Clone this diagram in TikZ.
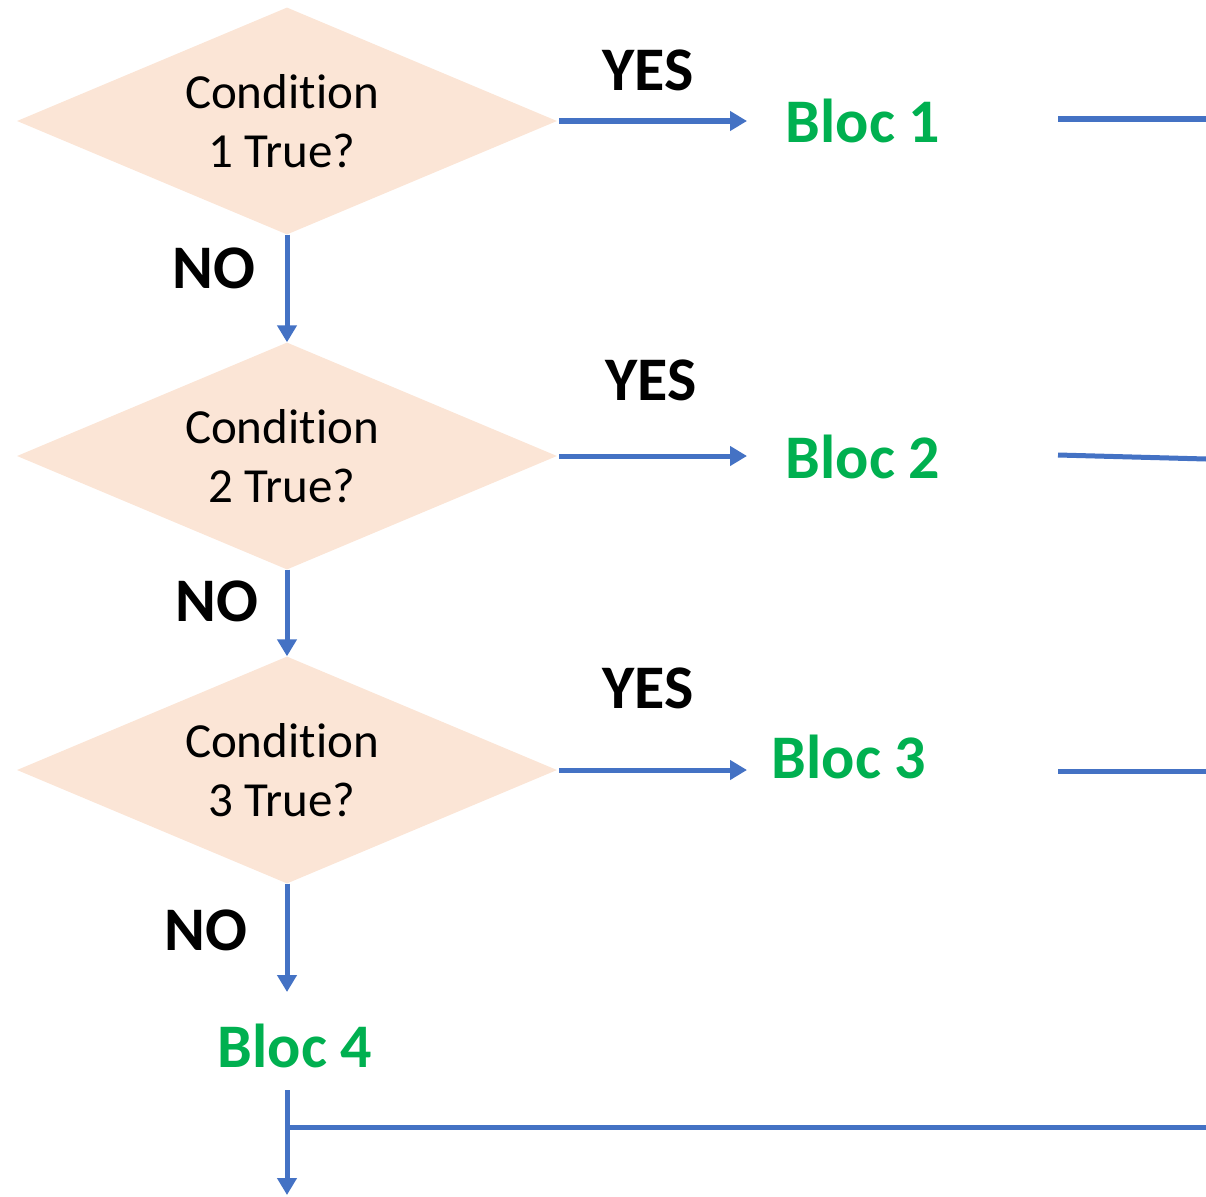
\documentclass[tikz,border=0pt]{standalone}
\usepackage{fontspec}
\setmainfont{Carlito}[Ligatures=NoCommon]
\usetikzlibrary{shapes.geometric,arrows.meta}
\definecolor{cfill}{HTML}{FBE5D6}
\definecolor{cblue}{HTML}{4472C4}
\definecolor{cgreen}{HTML}{00B050}
\newcommand{\lft}{\hspace*{-10pt}}
\tikzset{
  cond/.style={diamond, fill=cfill, shape aspect=2.379, minimum width=540pt, minimum height=227pt, inner sep=0pt, align=center,
    font=\fontsize{49pt}{59pt}\selectfont},
  bloc/.style={text=cgreen, font=\fontsize{62pt}{70pt}\selectfont\bfseries, inner sep=0pt},
  lab/.style={font=\fontsize{62pt}{70pt}\selectfont\bfseries, inner sep=0pt},
  conn/.style={draw=cblue, line width=5pt},
  arr/.style={conn, -{Triangle[length=17pt,width=19pt]}},
}
\begin{document}
\begin{tikzpicture}[x=1pt,y=-1pt]
\useasboundingbox (0,0) rectangle (1206,1196);
% decisions
\node[cond] (c1) at (287,121) {\lft Condit\kern0pt ion\\\lft 1 True?};
\node[cond] (c2) at (287,456) {\lft Condit\kern0pt ion\\\lft 2 True?};
\node[cond] (c3) at (287,770) {\lft Condit\kern0pt ion\\\lft 3 True?};
% blocs
\node[bloc] (b1) at (863,121) {Bloc 1};
\node[bloc] (b2) at (863,457) {Bloc 2};
\node[bloc] (b3) at (849,757) {Bloc 3};
\node[bloc] (b4) at (295,1046) {Bloc 4};
% labels
\node[lab] (y1) at (648,70) {YES};
\node[lab] (y2) at (651,380) {YES};
\node[lab] (y3) at (648,688) {YES};
\node[lab] (n1) at (214,268) {NO};
\node[lab] (n2) at (217,601) {NO};
\node[lab] (n3) at (206,930) {NO};
% coordinates
\coordinate (a1) at (747,121);
\coordinate (a2) at (747,456);
\coordinate (a3) at (747,770);
\coordinate (r1s) at (1058,119);
\coordinate (r1e) at (1206,119);
\coordinate (r2s) at (1058,455);
\coordinate (r2e) at (1206,459);
\coordinate (r3s) at (1058,771);
\coordinate (r3e) at (1206,771);
\coordinate (d3) at (287,992);
\coordinate (b4s) at (287,1090);
\coordinate (b4j) at (287,1127);
\coordinate (b4e) at (287,1195);
\coordinate (hr) at (1206,1127);
% connectors
\draw[arr] (c1.east) ++(2,0) -- (a1);
\draw[arr] (c2.east) ++(2,0) -- (a2);
\draw[arr] (c3.east) ++(2,0) -- (a3);
\draw[conn] (r1s) -- (r1e);
\draw[conn] (r2s) -- (r2e);
\draw[conn] (r3s) -- (r3e);
\draw[arr] (c1.south) -- (c2.north);
\draw[arr] (c2.south) -- (c3.north);
\draw[arr] (c3.south) -- (d3);
\draw[arr] (b4s) -- (b4e);
\draw[conn] (b4j) -- (hr);
\end{tikzpicture}
\end{document}
